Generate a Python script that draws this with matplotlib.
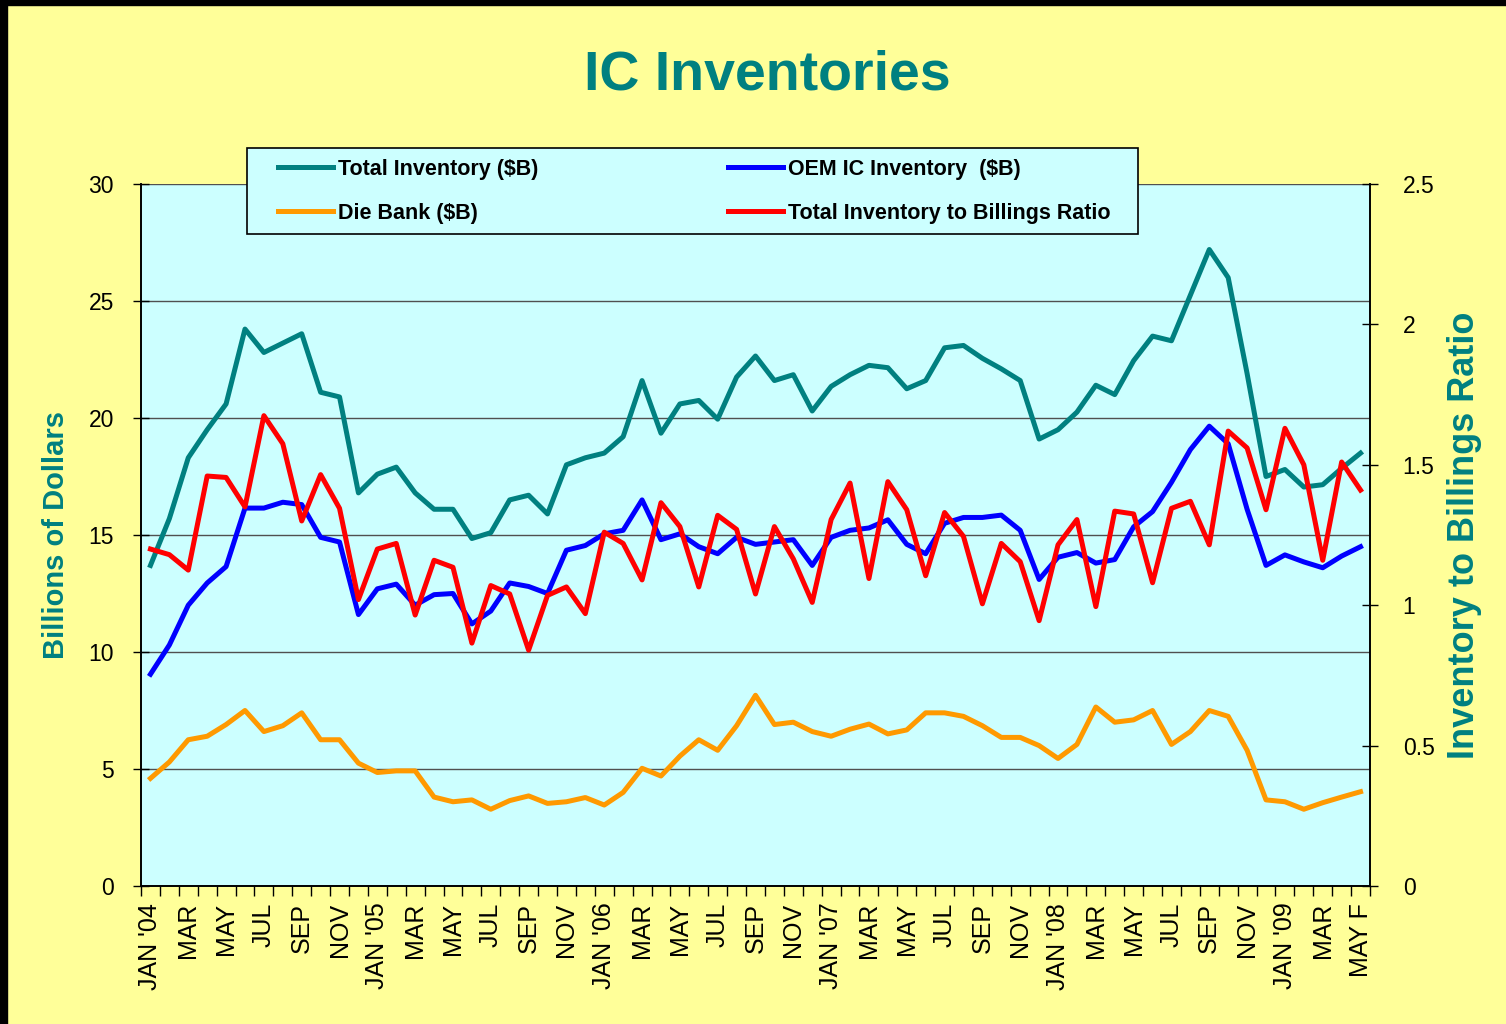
import matplotlib
matplotlib.use("Agg")
import matplotlib.pyplot as plt
from matplotlib.patches import Rectangle
import numpy as np

plt.rcParams["font.family"] = ["Liberation Sans", "DejaVu Sans"]

# monthly series, JAN 2004 .. MAY 2009 (forecast)
total_inv = [
    13.7, 15.7, 18.3, 19.5, 20.6, 23.8, 22.8, 23.2, 23.6, 21.1, 20.9, 16.8,
    17.6, 17.9, 16.8, 16.1, 16.1, 14.85, 15.1, 16.5, 16.7, 15.9, 18.0, 18.3,
    18.5, 19.2, 21.6, 19.35, 20.6, 20.75, 19.95, 21.75, 22.65, 21.6, 21.85, 20.3,
    21.35, 21.85, 22.25, 22.15, 21.25, 21.6, 23.0, 23.1, 22.55, 22.1, 21.6, 19.1,
    19.5, 20.25, 21.4, 21.0, 22.45, 23.5, 23.3, 25.25, 27.2, 26.0, 21.9, 17.5,
    17.8, 17.05, 17.15, 17.85, 18.5,
]
oem_inv = [
    9.05, 10.3, 12.0, 12.95, 13.65, 16.15, 16.15, 16.4, 16.3, 14.9, 14.7, 11.6,
    12.7, 12.9, 12.0, 12.45, 12.5, 11.2, 11.75, 12.95, 12.8, 12.5, 14.35, 14.55,
    15.05, 15.2, 16.5, 14.8, 15.05, 14.5, 14.2, 14.9, 14.6, 14.7, 14.8, 13.7,
    14.9, 15.2, 15.3, 15.65, 14.6, 14.2, 15.5, 15.75, 15.75, 15.85, 15.2, 13.1,
    14.05, 14.25, 13.8, 13.95, 15.35, 16.0, 17.25, 18.65, 19.65, 18.9, 16.1, 13.7,
    14.15, 13.85, 13.6, 14.1, 14.5,
]
die_bank = [
    4.6, 5.3, 6.25, 6.4, 6.9, 7.5, 6.6, 6.85, 7.4, 6.25, 6.25, 5.25,
    4.85, 4.92, 4.92, 3.8, 3.6, 3.68, 3.28, 3.65, 3.85, 3.53, 3.6, 3.78,
    3.46, 4.0, 5.03, 4.7, 5.55, 6.25, 5.8, 6.85, 8.15, 6.9, 7.0, 6.6,
    6.4, 6.7, 6.92, 6.5, 6.67, 7.4, 7.4, 7.25, 6.85, 6.35, 6.35, 6.0,
    5.45, 6.05, 7.65, 7.0, 7.1, 7.5, 6.05, 6.6, 7.5, 7.25, 5.8, 3.68,
    3.6, 3.28, 3.56, 3.8, 4.03,
]
inv_ratio = [
    1.20, 1.18, 1.125, 1.46, 1.455, 1.35, 1.675, 1.575, 1.30, 1.465, 1.345, 1.02,
    1.20, 1.22, 0.965, 1.16, 1.135, 0.865, 1.07, 1.04, 0.84, 1.035, 1.065, 0.97,
    1.26, 1.22, 1.09, 1.365, 1.28, 1.065, 1.32, 1.27, 1.04, 1.28, 1.165, 1.01,
    1.305, 1.435, 1.095, 1.44, 1.34, 1.105, 1.33, 1.245, 1.005, 1.22, 1.155, 0.945,
    1.215, 1.305, 0.995, 1.335, 1.325, 1.08, 1.345, 1.37, 1.215, 1.62, 1.56, 1.34,
    1.63, 1.50, 1.16, 1.51, 1.41,
]
tick_labels = [
    "JAN '04", "MAR", "MAY", "JUL", "SEP", "NOV",
    "JAN '05", "MAR", "MAY", "JUL", "SEP", "NOV",
    "JAN '06", "MAR", "MAY", "JUL", "SEP", "NOV",
    "JAN '07", "MAR", "MAY", "JUL", "SEP", "NOV",
    "JAN '08", "MAR", "MAY", "JUL", "SEP", "NOV",
    "JAN '09", "MAR", "MAY F",
]

TEAL = "#008080"
BG = "#FFFF99"
PLOT_BG = "#CCFFFF"
GRID = "#505050"

W, H = 1506, 1024
fig = plt.figure(figsize=(W / 100, H / 100), dpi=100, facecolor=BG)
ax = fig.add_axes([141 / W, 1 - 886 / H, (1370 - 141) / W, (886 - 184) / H])
ax.set_facecolor(PLOT_BG)
ax2 = ax.twinx()

x = np.arange(len(total_inv))
l_total, = ax.plot(x, total_inv, color=TEAL, lw=3.6, zorder=3)
l_oem, = ax.plot(x, oem_inv, color="#0000FF", lw=3.6, zorder=3)
l_die, = ax.plot(x, die_bank, color="#FF9900", lw=3.6, zorder=3)
l_ratio, = ax2.plot(x, inv_ratio, color="#FF0000", lw=3.6, zorder=3)

ax.set_xlim(-0.5, len(x) - 0.5)
ax.set_ylim(0, 30)
ax2.set_ylim(0, 2.5)
ax.set_yticks(np.arange(0, 31, 5))
ax2.set_yticks([0, 0.5, 1, 1.5, 2, 2.5])
ax2.set_yticklabels(["0", "0.5", "1", "1.5", "2", "2.5"])

ax.grid(axis="y", color=GRID, lw=1.0)
ax.set_axisbelow(True)

ax.set_xticks(x[::2])
ax.set_xticklabels(tick_labels, rotation=90, fontsize=18)
ax.set_xticks(np.arange(-0.5, len(x), 1), minor=True)
ax.tick_params(axis="x", which="major", length=0, pad=12)
ax.tick_params(axis="x", which="minor", length=7, width=1, direction="out", color="black")
ax.tick_params(axis="y", direction="inout", length=11, width=1, labelsize=16.5, pad=14)
ax2.tick_params(axis="y", direction="inout", length=11, width=1, labelsize=16.5, pad=18)

for a in (ax, ax2):
    a.spines["top"].set_visible(False)
    for s in ("left", "right", "bottom"):
        a.spines[s].set_color("black")
        a.spines[s].set_linewidth(1.2)

ax.set_ylabel("Billions of Dollars", color=TEAL, fontsize=21, fontweight="bold", labelpad=13)
ax2.set_ylabel("Inventory to Billings Ratio", color=TEAL, fontsize=26, fontweight="bold", labelpad=9)

fig.text(767 / W, 1 - 75 / H, "IC Inventories", color=TEAL, fontsize=40, fontweight="bold",
         ha="center", va="center")

# legend box drawn separately so its padding can match the slide
fig.patches.append(Rectangle((247 / W, 1 - 234 / H), (1138 - 247) / W, (234 - 148) / H,
                             transform=fig.transFigure, facecolor=PLOT_BG,
                             edgecolor="black", lw=1.2, zorder=4))
leg = fig.legend(
    [l_total, l_die, l_oem, l_ratio],
    ["Total Inventory ($B)", "Die Bank ($B)", "OEM IC Inventory  ($B)", "Total Inventory to Billings Ratio"],
    ncol=2, loc="upper left", bbox_to_anchor=(278 / W, 1 - 159 / H),
    prop={"weight": "bold", "size": 15.5}, frameon=False,
    handlelength=2.56, handletextpad=0.23, columnspacing=8.8,
    labelspacing=1.06, borderpad=0, borderaxespad=0,
)
leg.set_zorder(5)

# black frame band along top and left edges of the slide
fig.patches.append(Rectangle((0, 1 - 5 / H), 1, 5 / H, transform=fig.transFigure,
                             color="black", zorder=10))
fig.patches.append(Rectangle((0, 0), 7 / W, 1, transform=fig.transFigure,
                             color="black", zorder=10))

fig.savefig("out.png", dpi=100, facecolor=BG)
